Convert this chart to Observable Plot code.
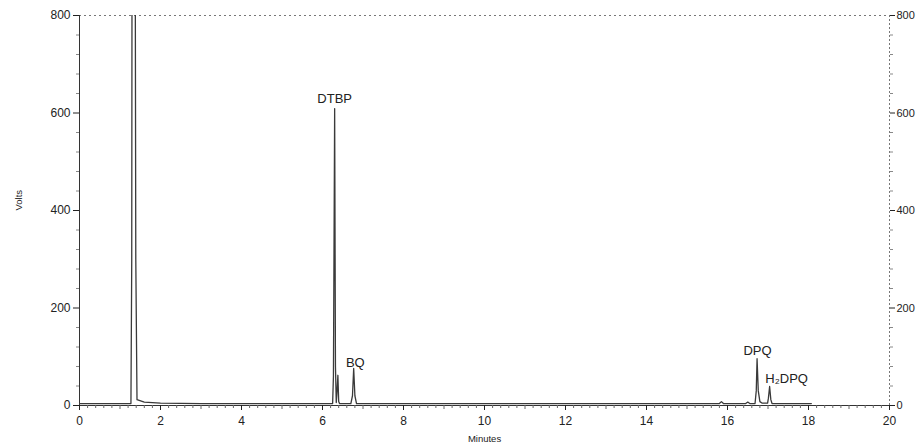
<!DOCTYPE html>
<html>
<head>
<meta charset="utf-8">
<script src="https://cdn.jsdelivr.net/npm/d3@7"></script>
<script src="https://cdn.jsdelivr.net/npm/@observablehq/plot@0.6"></script>
<style>
  body { margin: 0; background: #fff; }
  svg { font-family: "Liberation Sans", Arial, sans-serif; }
</style>
</head>
<body>
<div id="chart"></div>
<script>
// Retention time (minutes) and detector signal (Volts)
const times = [0, 0.5, 1.0, 1.27, 1.29, 1.30, 1.37, 1.39, 1.42, 1.6, 2.0, 3.0, 5.0,
  6.25, 6.27, 6.30, 6.32, 6.34, 6.36, 6.38, 6.40, 6.42, 6.70, 6.74, 6.77, 6.80, 6.84,
  8.0, 10.0, 12.0, 14.0, 15.8, 15.85, 15.9, 16.45, 16.5, 16.55,
  16.68, 16.71, 16.73, 16.76, 16.80, 16.85, 16.99, 17.01, 17.04, 17.07, 17.10, 18.07];
const volts = [4, 4, 4, 4, 300, 1200, 1200, 300, 12, 7, 5, 4, 4,
  4, 60, 609, 80, 6, 30, 62, 8, 4, 4, 20, 76, 20, 4,
  4, 4, 4, 4, 4, 8, 4, 4, 7, 4,
  4, 30, 96, 30, 8, 5, 5, 15, 39, 12, 4, 4];

const peakNames = ["DTBP", "BQ", "DPQ", "H\u2082DPQ"];
const peakLabelX = [6.3, 6.81, 16.74, 17.46];
const peakLabelY = [620, 80, 103, 47];

const xMajor = [0, 2, 4, 6, 8, 10, 12, 14, 16, 18, 20];
const yMajor = [0, 200, 400, 600, 800];

const trace = times.map((t, i) => ({t, v: volts[i]}));
const peaks = peakNames.map((n, i) => ({n, x: peakLabelX[i], y: peakLabelY[i]}));
const xMinor = d3.range(0, 20.001, 0.2).filter(v => Math.abs(v - Math.round(v)) > 1e-6);
const xMid = d3.range(1, 20, 2);
const yMinor = d3.range(0, 800.001, 40).filter(v => v % 200 !== 0);

const chart = Plot.plot({
  width: 917,
  height: 448,
  marginLeft: 79,
  marginRight: 28,
  marginTop: 15,
  marginBottom: 43,
  style: {fontFamily: "Liberation Sans, Arial, sans-serif", color: "#222", background: "#fff"},
  x: {domain: [0, 20]},
  y: {domain: [0, 800]},
  marks: [
    Plot.ruleY([800], {stroke: "#777", strokeDasharray: "2,3"}),
    Plot.ruleX([20], {stroke: "#777", strokeDasharray: "2,2"}),
    Plot.ruleX([0], {stroke: "#333"}),
    Plot.ruleY([0], {stroke: "#333"}),
    Plot.line(trace, {x: "t", y: "v", stroke: "#3a3a3a", strokeWidth: 1.3, clip: true}),
    Plot.axisX({ticks: xMinor, tickSize: 3, text: null, stroke: "#666"}),
    Plot.axisX({ticks: xMid, tickSize: 4, text: null, stroke: "#666"}),
    Plot.axisX({ticks: xMajor, tickSize: 5, tickPadding: 6, tickFormat: d => d, fontSize: 12, label: null}),
    Plot.axisY({ticks: yMinor, tickSize: 3, text: null, stroke: "#888"}),
    Plot.axisY({anchor: "right", ticks: yMinor, tickSize: 3, text: null, stroke: "#888"}),
    Plot.axisY({ticks: yMajor, tickSize: 6, tickPadding: 3, tickFormat: d => d, fontSize: 12, label: null}),
    Plot.axisY({anchor: "right", ticks: yMajor, tickSize: 5, tickPadding: 2, tickFormat: d => d, fontSize: 11, label: null}),
    Plot.text(peaks, {x: "x", y: "y", text: "n", lineAnchor: "bottom", fontSize: 13, fill: "#222"}),
    Plot.text(["Minutes"], {frameAnchor: "bottom", dy: 36, fontSize: 9.5, fill: "#222"}),
    Plot.text(["Volts"], {frameAnchor: "left", dx: -61, rotate: -90, fontSize: 9.5, fill: "#222"})
  ]
});
document.getElementById("chart").appendChild(chart);
</script>
</body>
</html>
